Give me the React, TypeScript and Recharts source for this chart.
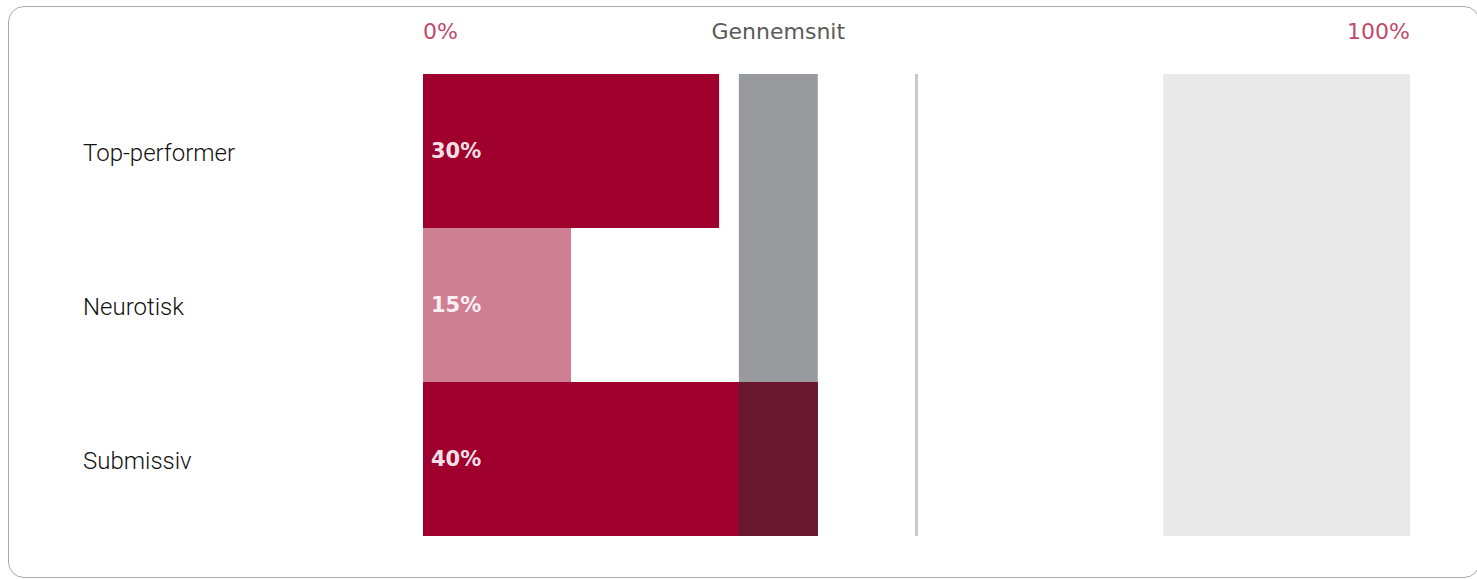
import React from 'react';
import {
  ComposedChart,
  Bar,
  Cell,
  XAxis,
  YAxis,
  LabelList,
  ReferenceArea,
  ReferenceLine,
} from 'recharts';

// values (percent)
const categories = ['Top-performer', 'Neurotisk', 'Submissiv'];
const values = [30, 15, 40];
const avgRange = [32, 40]; // "Gennemsnit" band
const midLine = 50;
const topRange = [75, 100];
const axisTicks = [0, (avgRange[0] + avgRange[1]) / 2, 100];

const barColors = ['#a0002e', '#cf7f93', '#a0002e'];

const data = categories.map((name, i) => ({ name, value: values[i] }));

const AxisTick = (props: any) => {
  const { x, y, payload } = props;
  const v = payload.value;
  const isEdge = v === 0 || v === 100;
  return (
    <text
      x={x}
      y={y - 35}
      textAnchor={v === 0 ? 'start' : v === 100 ? 'end' : 'middle'}
      dominantBaseline="central"
      fontFamily="DejaVu Sans"
      fontSize={22}
      fill={isEdge ? '#bf4a6d' : '#5a5a5a'}
    >
      {isEdge ? `${v}%` : 'Gennemsnit'}
    </text>
  );
};

const CategoryTick = (props: any) => {
  const { x, y, payload } = props;
  return (
    <text
      x={x - 332}
      y={y + 2}
      textAnchor="start"
      dominantBaseline="central"
      fontFamily="Roboto"
      fontWeight={300}
      fontSize={24}
      fill="#111"
    >
      {payload.value}
    </text>
  );
};

export default function App() {
  // dark part where a bar runs into the average band
  const overlaps = data.filter(d => d.value > avgRange[0]);

  return (
    <>
      <style>{'body{margin:0;overflow:hidden}'}</style>
      <div
        style={{
          position: 'absolute',
          left: 8,
          top: 6,
          width: 1472,
          height: 572,
          border: '1px solid #a8a8b0',
          borderRadius: 16,
          boxSizing: 'border-box',
          background: '#fff',
        }}
      >
        <ComposedChart
          width={1470}
          height={570}
          data={data}
          layout="vertical"
          barCategoryGap={0}
          margin={{ top: 0, right: 69, bottom: 41, left: 0 }}
        >
          <XAxis
            type="number"
            orientation="top"
            domain={[0, 100]}
            ticks={axisTicks}
            height={67}
            axisLine={false}
            tickLine={false}
            tick={<AxisTick />}
            interval={0}
          />
          <YAxis
            type="category"
            dataKey="name"
            width={414}
            axisLine={false}
            tickLine={false}
            tick={<CategoryTick />}
          />
          <ReferenceArea x1={topRange[0]} x2={topRange[1]} fill="#e9e9e9" fillOpacity={1} />
          <ReferenceLine x={midLine} stroke="#c8c8c8" strokeWidth={3} />
          <ReferenceArea x1={avgRange[0]} x2={avgRange[1]} fill="#999a9e" fillOpacity={1} />
          <Bar dataKey="value" isAnimationActive={false}>
            {data.map((d, i) => (
              <Cell key={d.name} fill={barColors[i]} />
            ))}
            <LabelList
              dataKey="value"
              position="insideLeft"
              offset={8}
              formatter={(v: any) => `${v}%`}
              fill="#fff"
              fillOpacity={0.9}
              fontFamily="DejaVu Sans"
              fontWeight="bold"
              fontSize={21}
            />
          </Bar>
          {overlaps.map(d => (
            <ReferenceArea
              key={d.name}
              x1={avgRange[0]}
              x2={Math.min(d.value, avgRange[1])}
              y1={d.name}
              y2={d.name}
              fill="#6a1830"
              fillOpacity={1}
              zIndex={350}
            />
          ))}
        </ComposedChart>
      </div>
    </>
  );
}
